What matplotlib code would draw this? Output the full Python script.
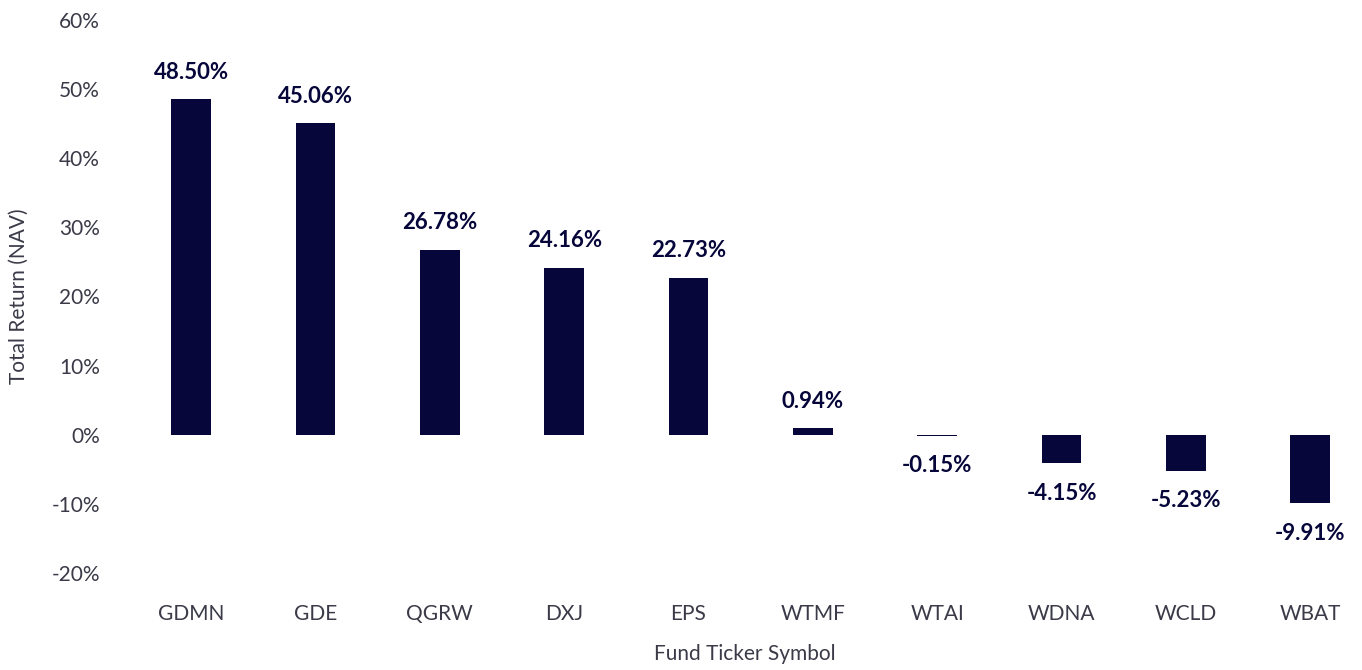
import matplotlib.pyplot as plt
from matplotlib.ticker import FuncFormatter

tickers = ["GDMN", "GDE", "QGRW", "DXJ", "EPS", "WTMF", "WTAI", "WDNA", "WCLD", "WBAT"]
returns = [48.50, 45.06, 26.78, 24.16, 22.73, 0.94, -0.15, -4.15, -5.23, -9.91]
yticks = [-20, -10, 0, 10, 20, 30, 40, 50, 60]

bar_color = "#06063a"
text_color = "#3a3a48"
plt.rcParams["font.family"] = ["Lato", "DejaVu Sans"]

fig = plt.figure(figsize=(13.62, 6.70), dpi=100)
ax = fig.add_axes([129 / 1362, 1 - 573 / 670, 1231 / 1362, 553 / 670])

x = list(range(len(tickers)))
ax.bar(x, returns, width=0.32, color=bar_color)

# value labels above positive bars, below negative ones
for xi, val in zip(x, returns):
    if val >= 0:
        ax.annotate(f"{val:.2f}%", (xi, val), xytext=(0, 12), textcoords="offset points",
                    ha="center", va="bottom", fontsize=16, fontweight="bold", color=bar_color)
    else:
        ax.annotate(f"{val:.2f}%", (xi, val), xytext=(0, -14), textcoords="offset points",
                    ha="center", va="top", fontsize=16, fontweight="bold", color=bar_color)

ax.set_xlim(-0.5, 9.4)
ax.set_ylim(-20, 60)
ax.set_yticks(yticks)
ax.yaxis.set_major_formatter(FuncFormatter(lambda v, p: f"{v:.0f}%"))
ax.set_xticks(x)
ax.set_xticklabels(tickers)
ax.tick_params(axis="both", length=0, labelsize=15, colors=text_color)
ax.tick_params(axis="y", pad=21)
ax.tick_params(axis="x", pad=22)
for s in ax.spines.values():
    s.set_visible(False)

ax.set_xlabel("Fund Ticker Symbol", fontsize=15, color=text_color)
ax.xaxis.set_label_coords(0.5, -0.128)
ax.set_ylabel("Total Return (NAV)", fontsize=15, color=text_color)
ax.yaxis.set_label_coords(-0.081, 0.5)

fig.savefig("out.png", dpi=100)
